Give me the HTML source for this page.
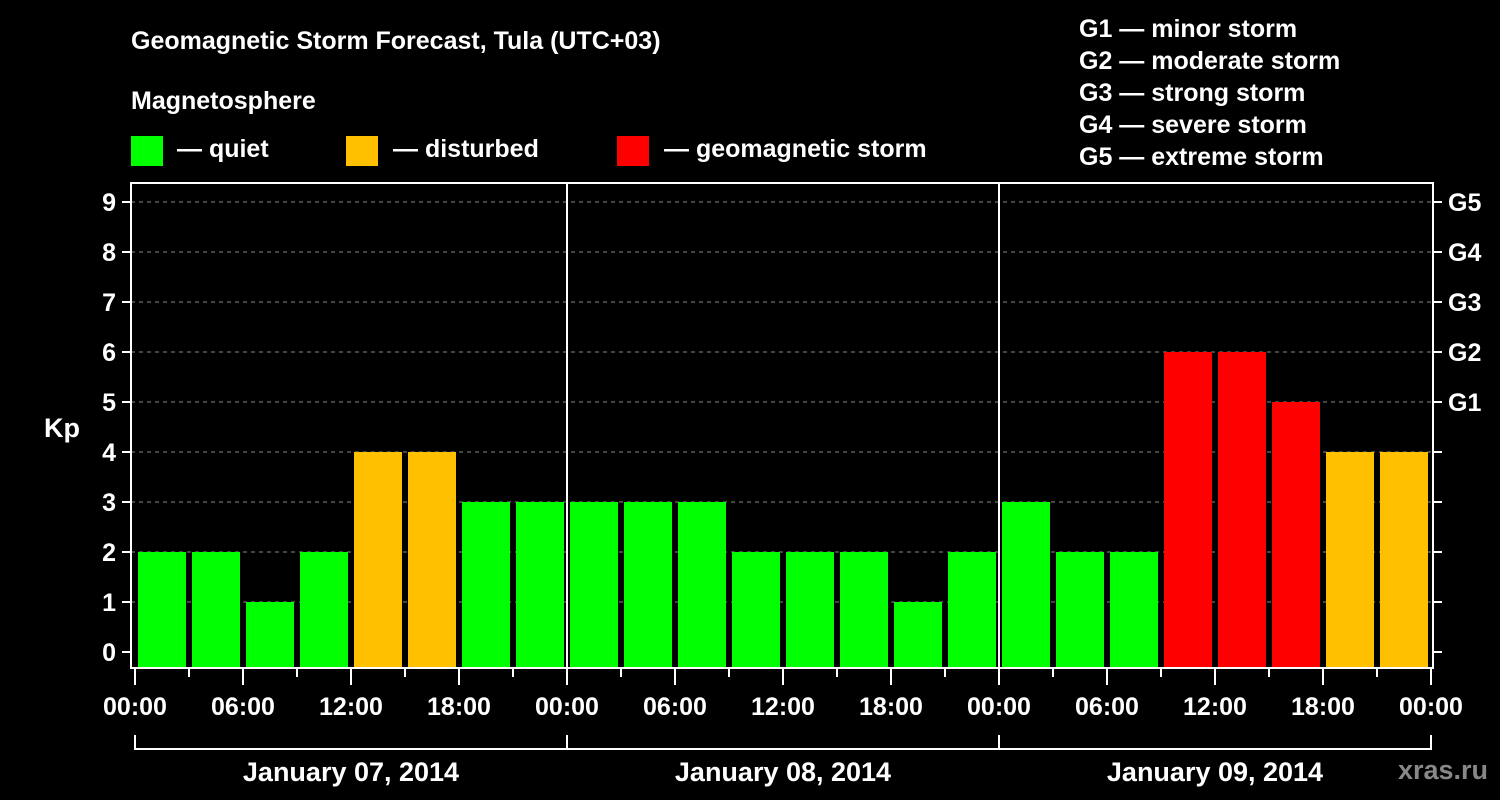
<!DOCTYPE html>
<html><head><meta charset="utf-8"><style>
html,body{margin:0;padding:0;background:#000;width:1500px;height:800px;overflow:hidden}
svg{display:block;font-family:"Liberation Sans",sans-serif;font-weight:bold}
</style></head><body>
<svg id="c" width="1500" height="800" xmlns="http://www.w3.org/2000/svg">
<text x="131" y="49" fill="#fff" font-size="25">Geomagnetic Storm Forecast, Tula (UTC+03)</text>
<text x="131" y="109" fill="#fff" font-size="25">Magnetosphere</text>
<g><rect x="131" y="136" width="32" height="30" fill="#00ff00"/><text x="177" y="157" fill="#fff" font-size="25">— quiet</text></g>
<g><rect x="346" y="136" width="32" height="30" fill="#ffc000"/><text x="393" y="157" fill="#fff" font-size="25">— disturbed</text></g>
<g><rect x="617" y="136" width="32" height="30" fill="#ff0000"/><text x="664" y="157" fill="#fff" font-size="25">— geomagnetic storm</text></g>
<g fill="#fff" font-size="25">
<text x="1079" y="37">G1 — minor storm</text>
<text x="1079" y="69">G2 — moderate storm</text>
<text x="1079" y="101">G3 — strong storm</text>
<text x="1079" y="133">G4 — severe storm</text>
<text x="1079" y="165">G5 — extreme storm</text>
</g>
<text x="62" y="437" fill="#fff" font-size="27" text-anchor="middle">Kp</text>
<text x="1488" y="779" fill="#888" font-size="27" text-anchor="end">xras.ru</text>
<g id="grid"></g><g id="bars"></g><g id="axes"></g>
</svg>
<script>
const kpValues=[2,2,1,2,4,4,3,3, 3,3,3,2,2,2,1,2, 3,2,2,6,6,5,4,4];
const dayLabels=["January 07, 2014","January 08, 2014","January 09, 2014"];
const yTicks=[0,1,2,3,4,5,6,7,8,9];
const gLabels=["G1","G2","G3","G4","G5"];
const hourLabels=["00:00","06:00","12:00","18:00"];
const NS="http://www.w3.org/2000/svg";
const L=131,R=1433,T=183,B=668,X0=135,SLOT=54;
const y=v=>652-v*50;
const x=i=>X0+i*SLOT;
function mk(p,tag,a){const e=document.createElementNS(NS,tag);for(const k in a)e.setAttribute(k,a[k]);p.appendChild(e);return e;}
const grid=document.getElementById('grid'),bars=document.getElementById('bars'),axes=document.getElementById('axes');
yTicks.forEach(v=>{
 if(v>0){const g=mk(grid,'line',{x1:L,x2:R,y1:y(v),y2:y(v),stroke:'#888','stroke-dasharray':'4,4'});
 
 }
 mk(axes,'line',{x1:L-9,x2:L,y1:y(v),y2:y(v),stroke:'#fff','stroke-width':2});
 mk(axes,'line',{x1:R,x2:R+9,y1:y(v),y2:y(v),stroke:'#fff','stroke-width':2});
 const t=mk(axes,'text',{x:116,y:y(v)+9,fill:'#fff','font-size':25,'text-anchor':'end'});t.textContent=v;
 
 
});
gLabels.forEach((g,i)=>{const t=mk(axes,'text',{x:1448,y:y(5+i)+9,fill:'#fff','font-size':25});t.textContent=g;
 
 });
kpValues.forEach((v,i)=>{
 const c=v>=5?'#ff0000':(v>=4?'#ffc000':'#00ff00');
 const r=mk(bars,'rect',{x:x(i)+3,y:y(v),width:48,height:B-y(v),fill:c});
 
 
});
mk(axes,'rect',{x:L,y:T,width:R-L,height:B-T,fill:'none',stroke:'#fff','stroke-width':2});
for(let d=1;d<dayLabels.length;d++)mk(axes,'line',{x1:x(d*8),x2:x(d*8),y1:T,y2:B,stroke:'#fff','stroke-width':2});
const n=dayLabels.length*8;
for(let i=0;i<=n;i++){
 const maj=i%2===0;
 mk(axes,'line',{x1:x(i),x2:x(i),y1:B,y2:B+(maj?17:9),stroke:'#fff','stroke-width':2});
 if(maj){const t=mk(axes,'text',{x:x(i),y:715,fill:'#fff','font-size':25,'text-anchor':'middle'});t.textContent=hourLabels[(i/2)%4];
 
 }
}
mk(axes,'line',{x1:x(0),x2:x(n),y1:749,y2:749,stroke:'#fff','stroke-width':2});
for(let d=0;d<=dayLabels.length;d++)mk(axes,'line',{x1:x(d*8),x2:x(d*8),y1:735,y2:750,stroke:'#fff','stroke-width':2});
dayLabels.forEach((l,d)=>{const t=mk(axes,'text',{x:x(d*8+4),y:781,fill:'#fff','font-size':27,'text-anchor':'middle'});t.textContent=l;
 
 });
</script>
</body></html>
